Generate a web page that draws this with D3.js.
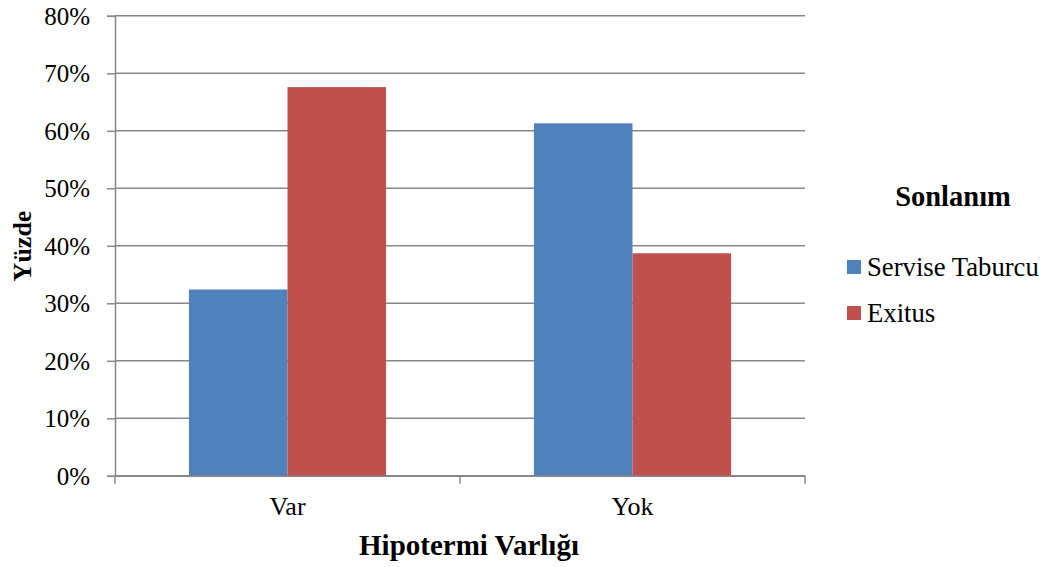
<!DOCTYPE html>
<html>
<head>
<meta charset="utf-8">
<script src="https://cdn.jsdelivr.net/npm/d3@7"></script>
<style>
  html, body { margin: 0; padding: 0; background: #fff; }
  svg { display: block; }
  text { font-family: "Liberation Serif", "Times New Roman", serif; fill: #000; }
</style>
</head>
<body>
<svg id="chart" width="1051" height="567"></svg>
<script>
// Hipotermi varlığına göre sonlanım yüzdeleri
const categories = ["Var", "Yok"];
const seriesNames = ["Servise Taburcu", "Exitus"];
const servisTaburcu = [0.324, 0.613];
const exitus = [0.676, 0.387];
const seriesColors = ["#4F81BD", "#C0504D"];
const yTicks = [0, 0.1, 0.2, 0.3, 0.4, 0.5, 0.6, 0.7, 0.8];

const SERIF = "Liberation Serif";

const rows = categories.map((c, i) => ({
  category: c,
  values: [
    { name: seriesNames[0], value: servisTaburcu[i] },
    { name: seriesNames[1], value: exitus[i] }
  ]
}));

const svg = d3.select("#chart");
const plot = { left: 115, right: 805, top: 15.8, bottom: 475.8 };

const x = d3.scaleBand().domain(categories).range([plot.left, plot.right]).padding(0);
// gap between clusters is 1.5x a bar's width
const barW = x.bandwidth() / 3.5;
const gap = barW * 1.5;
const xs = d3.scaleBand().domain(seriesNames).range([gap / 2, x.bandwidth() - gap / 2]).padding(0);
const y = d3.scaleLinear().domain([0, 0.8]).range([plot.bottom, plot.top]);
const color = d3.scaleOrdinal().domain(seriesNames).range(seriesColors);
const fmt = d3.format(".0%");

const gridColor = "#878787";

// horizontal gridlines
svg.append("g")
  .selectAll("line")
  .data(yTicks)
  .join("line")
  .attr("x1", plot.left)
  .attr("x2", plot.right)
  .attr("y1", d => y(d))
  .attr("y2", d => y(d))
  .attr("stroke", gridColor)
  .attr("stroke-width", 1.5);

// bars
svg.append("g")
  .selectAll("g")
  .data(rows)
  .join("g")
  .attr("transform", d => `translate(${x(d.category)},0)`)
  .selectAll("rect")
  .data(d => d.values)
  .join("rect")
  .attr("x", d => xs(d.name))
  .attr("width", xs.bandwidth())
  .attr("y", d => y(d.value))
  .attr("height", d => y(0) - y(d.value))
  .attr("fill", d => color(d.name));

// y axis
const yAxis = svg.append("g")
  .attr("transform", `translate(${plot.left},0)`)
  .call(d3.axisLeft(y).tickValues(yTicks).tickFormat(fmt).tickSize(8).tickPadding(17));
yAxis.attr("font-family", SERIF);
yAxis.select(".domain").attr("stroke", gridColor).attr("stroke-width", 1.5);
yAxis.selectAll(".tick line").attr("stroke", gridColor).attr("stroke-width", 1.5);
yAxis.selectAll(".tick text")
  .attr("font-size", 25)
  .attr("font-family", SERIF)
  .attr("fill", "#000")
  .attr("dy", "0.34em");

// x axis
const xAxis = svg.append("g")
  .attr("transform", `translate(0,${plot.bottom})`)
  .call(d3.axisBottom(x).tickSize(0).tickPadding(20));
xAxis.attr("font-family", SERIF);
xAxis.select(".domain").attr("stroke", gridColor).attr("stroke-width", 1.5);
xAxis.selectAll(".tick text")
  .attr("font-size", 26)
  .attr("font-family", SERIF)
  .attr("fill", "#000")
  .attr("dy", "0.72em");
// category boundary ticks
const boundaries = [plot.left].concat(categories.map(c => x(c) + x.bandwidth()));
xAxis.append("g")
  .selectAll("line")
  .data(boundaries)
  .join("line")
  .attr("x1", d => d).attr("x2", d => d)
  .attr("y1", 0).attr("y2", 8)
  .attr("stroke", gridColor)
  .attr("stroke-width", 1.5);

// axis titles
svg.append("text")
  .attr("x", 469)
  .attr("y", 555)
  .attr("text-anchor", "middle")
  .attr("font-family", SERIF)
  .attr("font-size", 29)
  .attr("font-weight", "bold")
  .text("Hipotermi Varlığı");

svg.append("text")
  .attr("transform", "translate(31,246) rotate(-90)")
  .attr("text-anchor", "middle")
  .attr("font-family", SERIF)
  .attr("font-size", 26)
  .attr("font-weight", "bold")
  .text("Yüzde");

// legend
svg.append("text")
  .attr("x", 953)
  .attr("y", 206)
  .attr("text-anchor", "middle")
  .attr("font-family", SERIF)
  .attr("font-size", 28.5)
  .attr("font-weight", "bold")
  .text("Sonlanım");

const legend = svg.append("g")
  .selectAll("g")
  .data(seriesNames)
  .join("g")
  .attr("transform", (d, i) => `translate(847,${260 + i * 46})`);
legend.append("rect")
  .attr("width", 14)
  .attr("height", 14)
  .attr("fill", d => color(d));
legend.append("text")
  .attr("x", 20)
  .attr("y", 16)
  .attr("font-family", SERIF)
  .attr("font-size", 26.7)
  .text(d => d);
</script>
</body>
</html>
